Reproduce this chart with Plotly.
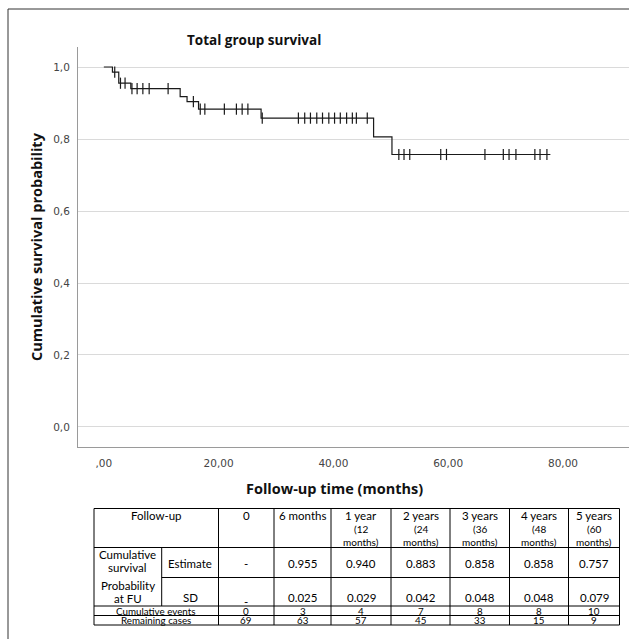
import plotly.graph_objects as go

# ---------------- data ----------------
event_times = [0, 1.5, 2.6, 4.7, 13.3, 14.5, 16.5, 27.4, 47.0, 50.2]
surv_levels = [1.0, 0.986, 0.955, 0.940, 0.918, 0.904, 0.883, 0.858, 0.806, 0.757]
last_followup = 77.8

censor_times = [1.9, 2.9, 3.7, 4.9, 5.8, 6.8, 7.9, 11.2, 15.6,
                16.8, 17.6, 21.0, 23.1, 24.1, 25.1, 27.6,
                33.9, 35.0, 36.0, 37.1, 38.1, 39.2, 40.2, 41.2, 42.3, 43.3, 44.0, 45.9,
                51.4, 52.3, 53.3, 58.7, 59.7, 66.4, 69.6, 70.6, 71.8, 75.1, 76.0, 77.2]

y_tickvals = [0.0, 0.2, 0.4, 0.6, 0.8, 1.0]
y_ticktext = ["0,0", "0,2", "0,4", "0,6", "0,8", "1,0"]
x_tickvals = [0, 20, 40, 60, 80]
x_ticktext = [",00", "20,00", "40,00", "60,00", "80,00"]

fu_labels = ["0", "6 months", "1 year", "2 years", "3 years", "4 years", "5 years"]
fu_months = ["", "", "(12", "(24", "(36", "(48", "(60"]
estimate = ["-", "0.955", "0.940", "0.883", "0.858", "0.858", "0.757"]
sd_vals = ["-", "0.025", "0.029", "0.042", "0.048", "0.048", "0.079"]
cum_events = [0, 3, 4, 7, 8, 8, 10]
remaining = [69, 63, 57, 45, 33, 15, 9]

# ---------------- geometry helpers ----------------
W, H = 629, 639
L, R, T, B = 78, 629, 47, 447


def px(x):
    return (x - L) / (R - L)


def py(y):
    return (B - y) / (B - T)


def level_at(t):
    s = surv_levels[0]
    for et, lv in zip(event_times, surv_levels):
        if et <= t:
            s = lv
    return s


step_x = list(event_times) + [last_followup]
step_y = list(surv_levels) + [surv_levels[-1]]
censor_y = [level_at(t) for t in censor_times]

fig = go.Figure()
fig.add_trace(go.Scatter(x=step_x, y=step_y, mode="lines", line_shape="hv",
                         line=dict(color="#1a1a1a", width=1.2), hoverinfo="skip",
                         showlegend=False))
fig.add_trace(go.Scatter(x=censor_times, y=censor_y, mode="markers",
                         marker=dict(symbol="line-ns", size=8,
                                     line=dict(color="#1a1a1a", width=1.2)),
                         showlegend=False))

font_main = "DejaVu Sans"
font_title = "Open Sans"
fig.update_layout(
    width=W, height=H,
    margin=dict(l=L, r=W - R, t=T, b=H - B, pad=0),
    paper_bgcolor="white", plot_bgcolor="white",
    xaxis=dict(range=[-4.5, 91.5], tickvals=x_tickvals, ticktext=x_ticktext,
               showgrid=False, zeroline=False, showline=True, linecolor="#9a9a9a",
               linewidth=1, ticks="", ticklabelstandoff=6,
               tickfont=dict(family=font_main, size=10.5, color="#444")),
    yaxis=dict(range=[-0.0556, 1.0556], tickvals=y_tickvals, ticktext=y_ticktext,
               showgrid=True, gridcolor="#dadada", gridwidth=1, zeroline=False,
               showline=True, linecolor="#9a9a9a", linewidth=1, ticks="",
               ticklabelstandoff=5,
               tickfont=dict(family=font_main, size=10.5, color="#444")),
)

shapes = []
ann = []

# outer frame
shapes.append(dict(type="line", xref="paper", yref="paper", x0=px(8), x1=px(W + 2),
                   y0=py(9), y1=py(9), line=dict(color="#333", width=1)))
shapes.append(dict(type="line", xref="paper", yref="paper", x0=px(8), x1=px(8),
                   y0=py(9), y1=py(H + 2), line=dict(color="#333", width=1)))

# titles
ann.append(dict(text="<b>Total group survival</b>", x=px(254), y=py(40), xref="paper",
                yref="paper", showarrow=False, xanchor="center", yanchor="middle",
                font=dict(family=font_title, size=13.5, color="#111")))
ann.append(dict(text="<b>Follow-up time (months)</b>", x=px(334), y=py(488), xref="paper",
                yref="paper", showarrow=False, xanchor="center", yanchor="middle",
                font=dict(family=font_title, size=14.5, color="#111")))
ann.append(dict(text="<b>Cumulative survival probability</b>", x=px(36), y=py(247),
                xref="paper", yref="paper", showarrow=False, textangle=-90,
                xanchor="center", yanchor="middle",
                font=dict(family=font_title, size=14.5, color="#111")))

# ---------------- table ----------------
cols = [94, 161.7, 218.5, 274, 331, 391, 450, 509.5, 568.5, 619.5]
rows = [508.5, 547.5, 577.5, 606, 615.5, 625]
lc = dict(color="#000", width=1)


def hline(y, x0, x1):
    shapes.append(dict(type="line", xref="paper", yref="paper", x0=px(x0), x1=px(x1),
                       y0=py(y), y1=py(y), line=lc))


def vline(x, y0, y1):
    shapes.append(dict(type="line", xref="paper", yref="paper", x0=px(x), x1=px(x),
                       y0=py(y0), y1=py(y1), line=lc))


for y in [rows[0], rows[1], rows[3], rows[4], rows[5]]:
    hline(y, cols[0], cols[-1])
hline(rows[2], cols[1], cols[-1])
vline(cols[0], rows[0], rows[5])
vline(cols[1], rows[1], rows[3])
for x in cols[2:]:
    vline(x, rows[0], rows[5])

tf = "Lato"


def txt(s, x, y, size=11.5):
    ann.append(dict(text=s, x=px(x), y=py(y), xref="paper", yref="paper",
                    showarrow=False, xanchor="center", yanchor="middle",
                    font=dict(family=tf, size=size, color="#000")))


c1 = (cols[0] + cols[2]) / 2
ev_y, rem_y = 611.0, 620.4
txt("Follow-up", c1, 515.5)
txt("Cumulative", (cols[0] + cols[1]) / 2, 554)
txt("survival", (cols[0] + cols[1]) / 2, 567.5)
txt("Probability", (cols[0] + cols[1]) / 2, 585.5)
txt("at FU", (cols[0] + cols[1]) / 2, 598)
txt("Estimate", (cols[1] + cols[2]) / 2, 563)
txt("SD", (cols[1] + cols[2]) / 2, 597)
txt("Cumulative events", c1, ev_y, size=9.8)
txt("Remaining cases", c1, rem_y, size=9.8)

for i in range(len(fu_labels)):
    cx = (cols[i + 2] + cols[i + 3]) / 2
    txt(fu_labels[i], cx, 515.5)
    if fu_months[i]:
        txt(fu_months[i], cx, 528.5, size=10)
        txt("months)", cx, 541.5, size=10)
    txt(estimate[i], cx, 563)
    txt(sd_vals[i], cx, 601.5 if i == 0 else 597)
    txt(str(cum_events[i]), cx, ev_y, size=9.8)
    txt(str(remaining[i]), cx, rem_y, size=9.8)

fig.update_layout(shapes=shapes, annotations=ann)
fig.write_html("out.html", config={"displayModeBar": False},
               post_script="document.body.style.margin='0';document.body.style.overflow='hidden';")
